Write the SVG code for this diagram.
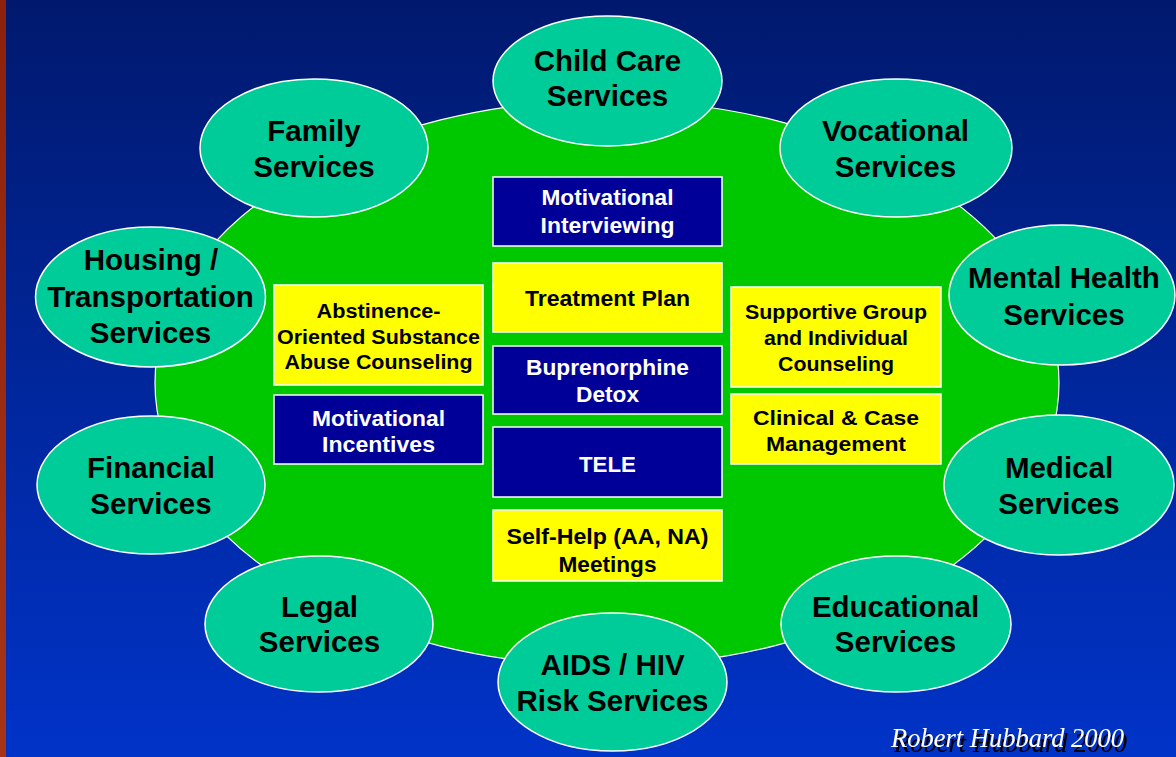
<svg xmlns="http://www.w3.org/2000/svg" width="1176" height="757" viewBox="0 0 1176 757">
  <defs>
    <linearGradient id="bg" x1="0" y1="0" x2="0" y2="1">
      <stop offset="0" stop-color="#00196e"/>
      <stop offset="1" stop-color="#0033c8"/>
    </linearGradient>
    <linearGradient id="edge" x1="0" y1="0" x2="0" y2="1">
      <stop offset="0" stop-color="#8c220c"/>
      <stop offset="1" stop-color="#a83416"/>
    </linearGradient>
    <filter id="hard-shadow" x="-5%" y="-20%" width="115%" height="160%">
      <feDropShadow dx="3" dy="5" stdDeviation="0" flood-color="#000000" flood-opacity="1"/>
    </filter>
    <style>
      .hub { fill: #00c800; stroke: #ffffff; stroke-width: 1.2; }
      .svc { fill: #00cc99; stroke: #ffffff; stroke-width: 1.5; }
      .svc-t { font-family: "Liberation Sans", Arial, sans-serif; font-weight: bold; font-size: 29.5px; fill: #000000; text-anchor: middle; }
      .navy { fill: #000099; stroke: #ffffff; stroke-width: 1.5; }
      .yel { fill: #ffff00; stroke: #ffffff; stroke-width: 1.5; }
      .bt { font-family: "Liberation Sans", Arial, sans-serif; font-weight: bold; text-anchor: middle; }
      .navy-t { fill: #ffffff; }
      .yel-t { fill: #000000; }
      .sig { font-family: "Liberation Serif", "Times New Roman", serif; font-style: italic; font-size: 26.5px; fill: #ffffff; }
    </style>
  </defs>

  <!-- backdrop -->
  <rect x="0" y="0" width="1176" height="757" fill="url(#bg)"/>
  <rect x="0" y="0" width="6" height="757" fill="url(#edge)"/>

  <!-- central program field -->
  <g id="hub">
    <ellipse class="hub" cx="607" cy="383" rx="452" ry="283"/>
  </g>

  <!-- core treatment components -->
  <g id="motivational-interviewing">
    <rect class="navy" x="493" y="177" width="229" height="69"/>
    <text class="bt navy-t" font-size="22" x="607.5" y="205" textLength="132" lengthAdjust="spacingAndGlyphs">Motivational</text>
    <text class="bt navy-t" font-size="22" x="607.5" y="232.5" textLength="134" lengthAdjust="spacingAndGlyphs">Interviewing</text>
  </g>
  <g id="treatment-plan">
    <rect class="yel" x="493" y="263" width="229" height="69"/>
    <text class="bt yel-t" font-size="22" x="607.5" y="306" textLength="165" lengthAdjust="spacingAndGlyphs">Treatment Plan</text>
  </g>
  <g id="buprenorphine-detox">
    <rect class="navy" x="493" y="346" width="229" height="68"/>
    <text class="bt navy-t" font-size="22" x="607.5" y="375" textLength="163" lengthAdjust="spacingAndGlyphs">Buprenorphine</text>
    <text class="bt navy-t" font-size="22" x="607.5" y="402" textLength="63" lengthAdjust="spacingAndGlyphs">Detox</text>
  </g>
  <g id="tele">
    <rect class="navy" x="493" y="427" width="229" height="70"/>
    <text class="bt navy-t" font-size="22" x="607.5" y="472" textLength="57" lengthAdjust="spacingAndGlyphs">TELE</text>
  </g>
  <g id="self-help">
    <rect class="yel" x="493" y="510" width="229" height="71"/>
    <text class="bt yel-t" font-size="22" x="607.5" y="544" textLength="202" lengthAdjust="spacingAndGlyphs">Self-Help (AA, NA)</text>
    <text class="bt yel-t" font-size="22" x="607.5" y="571.5" textLength="98" lengthAdjust="spacingAndGlyphs">Meetings</text>
  </g>
  <g id="abstinence-counseling">
    <rect class="yel" x="274" y="285" width="209" height="100"/>
    <text class="bt yel-t" font-size="19.5" x="378.5" y="317.5" textLength="124" lengthAdjust="spacingAndGlyphs">Abstinence-</text>
    <text class="bt yel-t" font-size="19.5" x="378.5" y="343.5" textLength="203" lengthAdjust="spacingAndGlyphs">Oriented Substance</text>
    <text class="bt yel-t" font-size="19.5" x="378.5" y="368.5" textLength="188" lengthAdjust="spacingAndGlyphs">Abuse Counseling</text>
  </g>
  <g id="motivational-incentives">
    <rect class="navy" x="274" y="395" width="209" height="69"/>
    <text class="bt navy-t" font-size="22.5" x="378.5" y="425.5" textLength="133" lengthAdjust="spacingAndGlyphs">Motivational</text>
    <text class="bt navy-t" font-size="22.5" x="378.5" y="451.5" textLength="113" lengthAdjust="spacingAndGlyphs">Incentives</text>
  </g>
  <g id="supportive-counseling">
    <rect class="yel" x="731" y="287" width="210" height="100"/>
    <text class="bt yel-t" font-size="20" x="836" y="318.5" textLength="182" lengthAdjust="spacingAndGlyphs">Supportive Group</text>
    <text class="bt yel-t" font-size="20" x="836" y="345" textLength="144" lengthAdjust="spacingAndGlyphs">and Individual</text>
    <text class="bt yel-t" font-size="20" x="836" y="371" textLength="116" lengthAdjust="spacingAndGlyphs">Counseling</text>
  </g>
  <g id="case-management">
    <rect class="yel" x="731" y="394" width="210" height="70"/>
    <text class="bt yel-t" font-size="21" x="836" y="425" textLength="166" lengthAdjust="spacingAndGlyphs">Clinical &amp; Case</text>
    <text class="bt yel-t" font-size="21" x="836" y="451" textLength="140" lengthAdjust="spacingAndGlyphs">Management</text>
  </g>

  <!-- wrap-around services -->
  <g id="child-care">
    <ellipse class="svc" cx="607.5" cy="81" rx="114.5" ry="65"/>
    <text class="svc-t" x="607.5" y="71">Child Care</text>
    <text class="svc-t" x="607.5" y="106">Services</text>
  </g>
  <g id="family">
    <ellipse class="svc" cx="314" cy="148" rx="114" ry="69"/>
    <text class="svc-t" x="314" y="141">Family</text>
    <text class="svc-t" x="314" y="176.5">Services</text>
  </g>
  <g id="vocational">
    <ellipse class="svc" cx="896" cy="148" rx="116" ry="69"/>
    <text class="svc-t" x="895.5" y="141">Vocational</text>
    <text class="svc-t" x="895.5" y="176.5">Services</text>
  </g>
  <g id="housing-transportation">
    <ellipse class="svc" cx="150.5" cy="297" rx="115" ry="70"/>
    <text class="svc-t" x="151" y="270">Housing /</text>
    <text class="svc-t" x="150.5" y="306.5">Transportation</text>
    <text class="svc-t" x="150.5" y="343">Services</text>
  </g>
  <g id="mental-health">
    <ellipse class="svc" cx="1062" cy="295" rx="113" ry="70"/>
    <text class="svc-t" x="1064" y="288">Mental Health</text>
    <text class="svc-t" x="1064" y="324.5">Services</text>
  </g>
  <g id="financial">
    <ellipse class="svc" cx="151" cy="485" rx="114" ry="69"/>
    <text class="svc-t" x="151" y="478">Financial</text>
    <text class="svc-t" x="151" y="514">Services</text>
  </g>
  <g id="medical">
    <ellipse class="svc" cx="1059" cy="485" rx="115" ry="70"/>
    <text class="svc-t" x="1059" y="478">Medical</text>
    <text class="svc-t" x="1059" y="514">Services</text>
  </g>
  <g id="legal">
    <ellipse class="svc" cx="319" cy="624" rx="114" ry="68"/>
    <text class="svc-t" x="319.5" y="617">Legal</text>
    <text class="svc-t" x="319.5" y="652">Services</text>
  </g>
  <g id="educational">
    <ellipse class="svc" cx="896" cy="624" rx="115" ry="68"/>
    <text class="svc-t" x="895.5" y="617">Educational</text>
    <text class="svc-t" x="895.5" y="652">Services</text>
  </g>
  <g id="aids-hiv">
    <ellipse class="svc" cx="612.5" cy="682" rx="114.5" ry="69"/>
    <text class="svc-t" x="612.5" y="675">AIDS / HIV</text>
    <text class="svc-t" x="612.5" y="711">Risk Services</text>
  </g>

  <!-- no connectors in this layout -->
  <g id="connectors"/>

  <!-- credit line with a hard drop shadow -->
  <g id="credit">
    <text class="sig" x="891" y="747" filter="url(#hard-shadow)">Robert Hubbard 2000</text>
  </g>
</svg>
